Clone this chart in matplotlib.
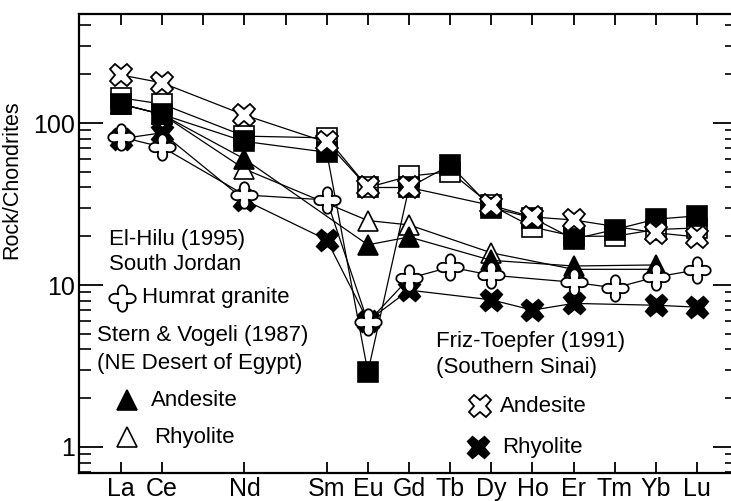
import numpy as np
import matplotlib
matplotlib.use("Agg")
import matplotlib.pyplot as plt
from matplotlib.path import Path
from matplotlib.ticker import FixedLocator, LogLocator, NullFormatter

plt.rcParams['font.family'] = ['Liberation Sans', 'DejaVu Sans']

# ---- data ----
elements = ["La", "Ce", "Nd", "Sm", "Eu", "Gd", "Tb", "Dy", "Ho", "Er", "Tm", "Yb", "Lu"]
positions = [0, 1, 3, 5, 6, 7, 8, 9, 10, 11, 12, 13, 14]
nan = np.nan

stern_rhyolite = [131, 113, 52, nan, 25, 23.5, nan, 15.8, nan, 12.5, nan, 12.5, nan]
stern_andesite = [131, 113, 60, nan, 17.7, 19.8, nan, 14.2, nan, 13.1, nan, 13.3, nan]
white_squares = [143, 131, 83, 81, 40, 47, 50, 31, 22.8, 20, 20, 22, 22.5]
black_squares = [131, 113, 77, 66, 2.9, 40, 55, 30, 26, 19.2, 22, 25.5, 26.7]
friz_rhyolite = [80, 87, 33.5, 19, 6, 9.3, nan, 8.1, 7.0, 7.7, nan, 7.5, 7.3]
humrat = [82, 71, 36, 33.5, 5.9, 11, 12.9, 11.5, nan, 10.4, 9.6, 11.2, 12.4]
friz_andesite = [198, 177, 112, 76, 40, 40, nan, 31, 26.3, 25.2, nan, 21, 19.8]

# ---- custom marker (four-armed open cross with rounded ends) ----
th = np.linspace(0, 2 * np.pi, 321)
rr = 0.45 + 0.55 * np.abs(np.cos(2 * th)) ** 1.1
verts = np.column_stack([rr * np.cos(th), rr * np.sin(th)])
flower = Path(verts, closed=True)

W, H = 731, 501
fig = plt.figure(figsize=(W / 100, H / 100), dpi=100)
ax = fig.add_axes([79 / W, 28 / H, 658 / W, 459 / H])

def draw(vals, **kw):
    x = np.array(positions, float)
    y = np.array(vals, float)
    m = ~np.isnan(y)
    ax.plot(x[m], y[m], color='black', lw=0.9, **kw)

draw(stern_rhyolite, marker='^', ms=15, mfc='white', mec='black', mew=1.2)
draw(stern_andesite, marker='^', ms=15, mfc='black', mec='black', mew=1.2)
draw(white_squares, marker='s', ms=15, mfc='white', mec='black', mew=1.2)
draw(black_squares, marker='s', ms=15, mfc='black', mec='black', mew=1.2)
draw(friz_rhyolite, marker='X', ms=16, mfc='black', mec='black', mew=1.0)
draw(humrat, marker=flower, ms=19, mfc='white', mec='black', mew=1.3)
draw(friz_andesite, marker='X', ms=16.5, mfc='white', mec='black', mew=1.3)

ax.set_yscale('log')
ax.set_xlim(-1.02, 14.97)
ax.set_ylim(0.691, 471)

ax.set_xticks(positions)
ax.set_xticklabels(elements)
ax.xaxis.set_minor_locator(FixedLocator([2, 4]))
ax.set_yticks([1, 10, 100])
ax.set_yticklabels(["1", "10", "100"])
ax.yaxis.set_minor_locator(LogLocator(base=10, subs=np.arange(2, 10)))
ax.yaxis.set_minor_formatter(NullFormatter())

ax.tick_params(axis='x', which='major', direction='in', length=8, width=1.3,
               top=True, bottom=True, labelsize=18, pad=3)
ax.tick_params(axis='x', which='minor', direction='in', length=8, width=1.3,
               top=True, bottom=False)
ax.tick_params(axis='y', which='major', direction='in', length=17, width=1.3,
               left=True, right=True, labelsize=18, pad=3)
ax.tick_params(axis='y', which='minor', direction='in', length=8.5, width=1.2,
               left=True, right=True)
for s in ax.spines.values():
    s.set_linewidth(1.6)

ax.set_ylabel("Rock/Chondrites", fontsize=15.5)
ax.yaxis.set_label_coords(-0.087, 0.638)

# ---- legend annotations (pixel positions -> axes fraction) ----
def ap(px, py):
    return ((px - 79) / 658, (473 - py) / 459)

def txt(px, py, s):
    ax.text(*ap(px, py), s, transform=ax.transAxes, fontsize=16,
            ha='left', va='center')

def mk(px, py, **kw):
    x, y = ap(px, py)
    ax.plot([x], [y], transform=ax.transAxes, ls='none', clip_on=False, **kw)

txt(109, 240, "El-Hilu (1995)")
txt(109, 264, "South Jordan")
mk(122, 298, marker=flower, ms=19, mfc='white', mec='black', mew=1.3)
txt(142, 298, "Humrat granite")
txt(97, 335, "Stern & Vogeli (1987)")
txt(97, 363, "(NE Desert of Egypt)")
mk(127, 400, marker='^', ms=15, mfc='black', mec='black', mew=1.2)
txt(151, 400, "Andesite")
mk(127, 437, marker='^', ms=15, mfc='white', mec='black', mew=1.2)
txt(154, 437, "Rhyolite")

txt(436, 342, "Friz-Toepfer (1991)")
txt(436, 368, "(Southern Sinai)")
mk(480, 406, marker='X', ms=16.5, mfc='white', mec='black', mew=1.3)
txt(500, 406, "Andesite")
mk(478, 447, marker='X', ms=16, mfc='black', mec='black', mew=1.0)
txt(502, 448, "Rhyolite")

fig.savefig("out.png", dpi=100)
